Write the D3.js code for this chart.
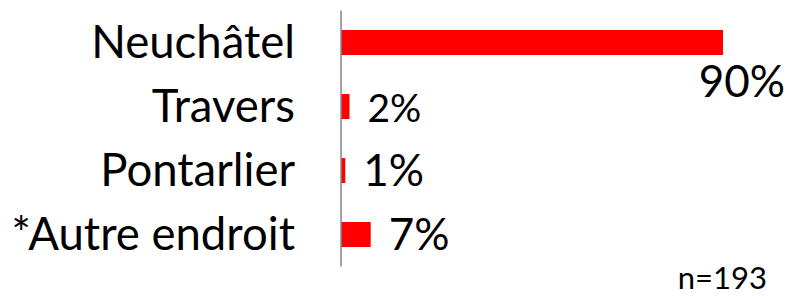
<!DOCTYPE html>
<html>
<head>
<meta charset="utf-8">
<script src="https://cdn.jsdelivr.net/npm/d3@7"></script>
<style>
  body { margin: 0; background: #fff; }
  svg text { font-family: Lato, "Noto Sans", sans-serif; fill: #000; }
</style>
</head>
<body>
<div class="bar-chart"></div>
<script>
const width = 788;
const height = 296;
const margin = { top: 10.5, right: 3, bottom: 29.5, left: 341 };

// data
const places = ["Neuchâtel", "Travers", "Pontarlier", "*Autre endroit"];
const shares = [90, 2, 1, 7];
const sampleNote = "n=193";

const labelSize = 45.5;
const valueSize = 44;
const valueSizeSmall = 39; // the "2%" label is drawn smaller

const svg = d3.select(".bar-chart")
    .append("svg")
    .attr("width", width)
    .attr("height", height)

const y = d3.scaleBand()
    .domain(places)
    .range([margin.top, height - margin.bottom])
    .paddingInner(39 / 64)
    .paddingOuter(39 / 128)

const x = d3.scaleLinear()
    .domain([0, 90])
    .range([margin.left, 723])

const rows = places.map((p, i) => ({ place: p, share: shares[i] }))

// bars
svg.selectAll("rect.bar")
    .data(rows)
    .join("rect")
    .attr("class", "bar")
    .attr("x", x(0))
    .attr("y", d => y(d.place))
    .attr("width", d => x(d.share) - x(0))
    .attr("height", y.bandwidth())
    .attr("fill", "#ff0000")

// category axis, only the line and labels
const yAxis = d3.axisLeft(y).tickSize(0).tickPadding(46)
const gy = svg.append("g")
    .attr("transform", `translate(${x(0)}, 0)`)
    .call(yAxis)
gy.select(".domain")
    .attr("d", `M0,${margin.top}V${height - margin.bottom}`)
    .attr("stroke", "#8c8c8c")
    .attr("stroke-width", 1.6)
gy.selectAll(".tick text")
    .attr("font-size", labelSize)
    .attr("font-family", "Lato, 'Noto Sans', sans-serif")
    .attr("fill", "#000")
    .attr("dy", "0.33em")

// value labels
svg.selectAll("text.value")
    .data(rows)
    .join("text")
    .attr("class", "value")
    .attr("font-size", d => d.place === "Travers" ? valueSizeSmall : valueSize)
    .text(d => d.share + "%")
    .each(function (d) {
        const t = d3.select(this)
        const cy = y(d.place) + y.bandwidth() / 2
        const lx = x(d.share) + 18
        const w = this.getComputedTextLength()
        if (lx + w > width - margin.right) {
            // no room to the right: wraps below the bar end
            t.attr("x", width - margin.right).attr("y", cy + 54).attr("text-anchor", "end")
        } else {
            t.attr("x", lx).attr("y", cy + 15).attr("text-anchor", "start")
        }
    })

svg.append("text")
    .attr("x", 767)
    .attr("y", 289)
    .attr("text-anchor", "end")
    .attr("font-size", 31)
    .text(sampleNote)
</script>
</body>
</html>
